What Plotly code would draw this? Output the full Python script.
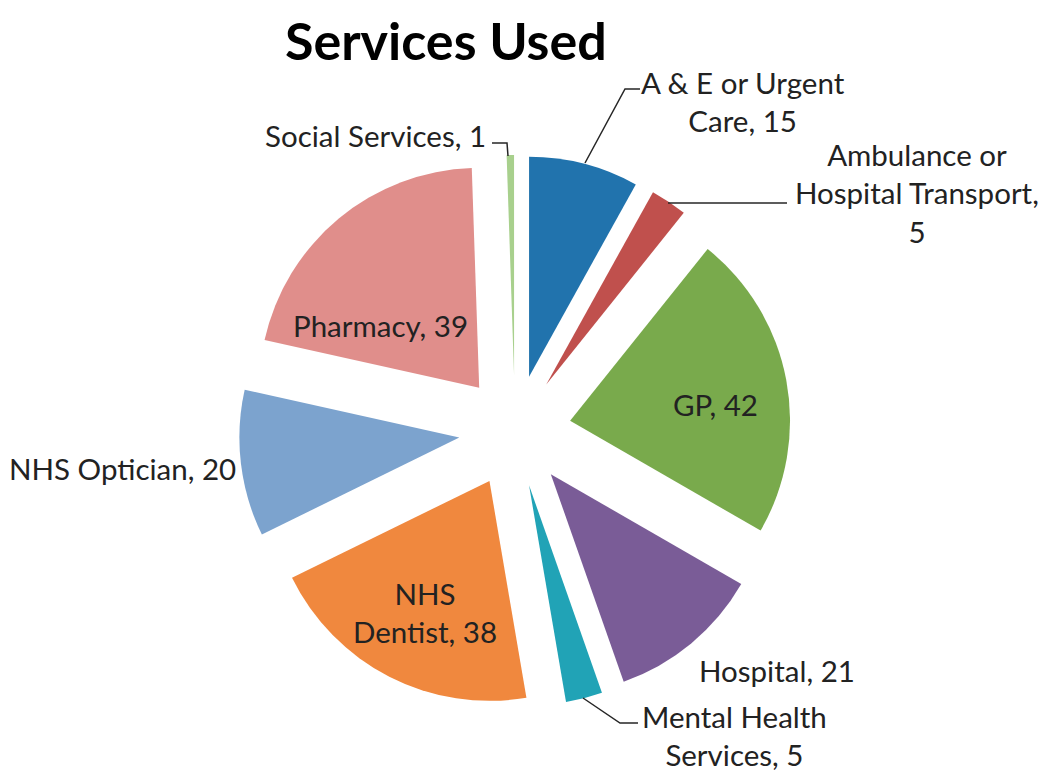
import plotly.graph_objects as go

W, H = 1048, 774

# ---- data ----
labels = ["A & E or Urgent Care", "Ambulance or Hospital Transport", "GP", "Hospital",
          "Mental Health Services", "NHS Dentist", "NHS Optician", "Pharmacy", "Social Services"]
values = [15, 5, 42, 21, 5, 38, 20, 39, 1]
colors = ["#2173AD", "#C0504D", "#79AA4C", "#7A5C97", "#21A3B6",
          "#F0883E", "#7CA3CE", "#E08E8B", "#A8D08D"]
# label text as shown on the chart (line breaks), value separator
label_display = ["A & E or Urgent<br>Care", "Ambulance or<br>Hospital Transport", "GP", "Hospital",
                 "Mental Health<br>Services", "NHS<br>Dentist", "NHS Optician", "Pharmacy", "Social Services"]
value_sep = [", ", ",<br>", ", ", ", ", ", ", ", ", ", ", ", ", ", "]

# ---- layout helpers (screen pixel -> paper; page body has an 8px margin) ----
OFF = 8
def px(x, y):
    return (x - OFF) / W, 1 - (y - OFF) / H

cx, cy, half = 515, 431, 276
FONT = "Lato, 'Open Sans', sans-serif"
TXT = "#222222"

x0, y0 = px(cx - half, cy + half)
x1, y1 = px(cx + half, cy - half)
fig = go.Figure(go.Pie(
    labels=labels, values=values, sort=False, direction="clockwise", rotation=0,
    marker=dict(colors=colors, line=dict(width=0)),
    pull=[0.255] * len(values), textinfo="none", hoverinfo="label+value",
    domain=dict(x=[x0, x1], y=[y0, y1]),
))

# label anchor positions (screen pixels, centre of text block)
label_pos = [(743, 101), (917, 193), (715, 405), (777, 670), (734, 735),
             (425, 612), (122, 468), (380, 325), (375, 135)]

annotations = []
for disp, sep, v, (lx, ly) in zip(label_display, value_sep, values, label_pos):
    ax_, ay_ = px(lx, ly)
    annotations.append(dict(x=ax_, y=ay_, xref="paper", yref="paper", text=f"{disp}{sep}{v}",
                            showarrow=False, xanchor="center", yanchor="middle",
                            font=dict(family=FONT, size=29.5, color=TXT)))

tx, ty = px(446, 40)
annotations.append(dict(x=tx, y=ty, xref="paper", yref="paper", text="<b>Services Used</b>",
                        showarrow=False, xanchor="center", yanchor="middle",
                        font=dict(family=FONT, size=52, color="#000000")))

# leader lines
leaders = [
    [(585, 163), (625, 89), (640, 89)],
    [(668, 203), (787, 203)],
    [(583, 698), (620, 723), (638, 723)],
    [(492, 143), (507, 143), (508, 156)],
]
shapes = []
for pts in leaders:
    p = [px(*q) for q in pts]
    path = "M " + " L ".join(f"{a:.5f},{b:.5f}" for a, b in p)
    shapes.append(dict(type="path", path=path, xref="paper", yref="paper",
                       line=dict(color="#262626", width=1.5)))

fig.update_layout(width=W, height=H, margin=dict(l=0, r=0, t=0, b=0),
                  paper_bgcolor="white", plot_bgcolor="white", showlegend=False,
                  annotations=annotations, shapes=shapes)

fig.write_html("out.html")
